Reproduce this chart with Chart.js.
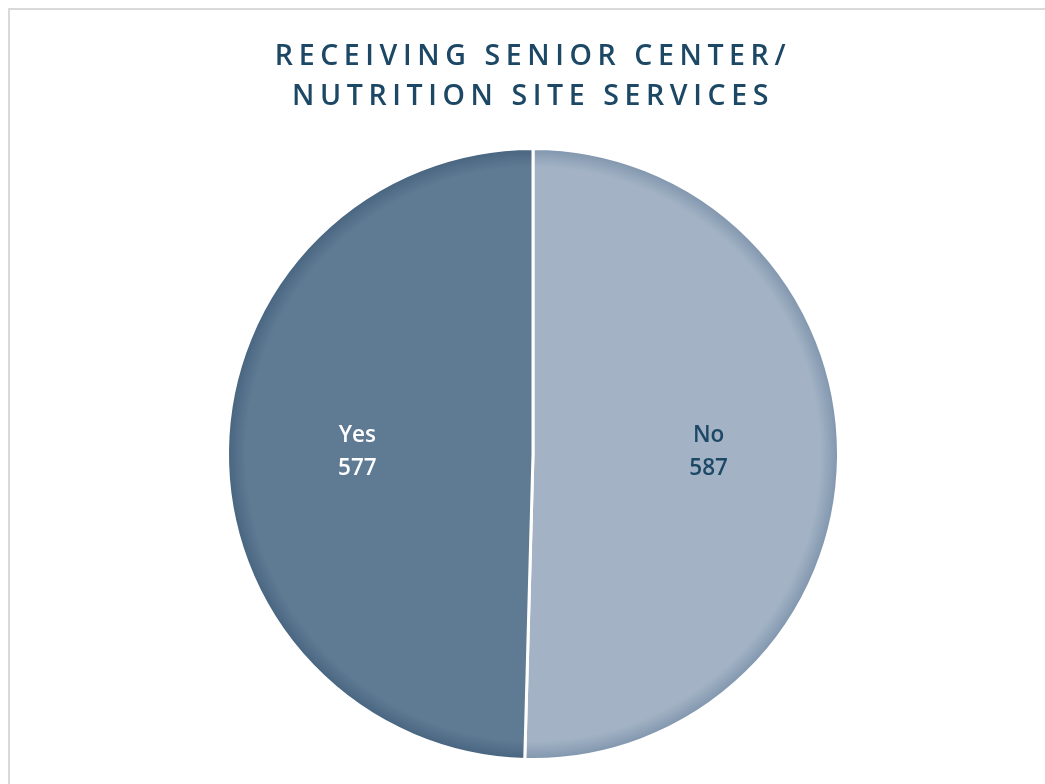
<!DOCTYPE html>
<html>
<head>
<meta charset="utf-8">
<script src="https://cdn.jsdelivr.net/npm/chart.js@4"></script>
<style>
  html, body { margin: 0; padding: 0; background: #fff; overflow: hidden; }
  #wrap { position: relative; width: 1045px; height: 784px; }
  #frame {
    position: absolute; left: 8px; top: 8px; width: 1100px; height: 900px;
    border: 2px solid #d9d9d9; box-sizing: border-box;
  }
  #title {
    position: absolute; left: 21px; right: 0; top: 34px;
    text-align: center; color: #1c4866;
    font: 600 28.5px "Open Sans", sans-serif; letter-spacing: 5.6px; line-height: 40px;
  }
  canvas { position: absolute; left: 0; top: 0; }
</style>
</head>
<body>
<div id="wrap">
  <div id="frame"></div>
  <canvas id="pie" width="1045" height="784"></canvas>
  <div id="title">RECEIVING SENIOR CENTER/<br>NUTRITION SITE SERVICES</div>
</div>
<script>
// Data
const labels = ['No', 'Yes'];
const values = [587, 577];
const fillColors = ['#a3b3c5', '#5f7a93'];
const rimColors = ['#7d93ab', '#46637f'];
const labelColors = ['#1c4866', '#ffffff'];

// Radial shading toward the outer rim of each slice
function sliceFill(context) {
  const chart = context.chart;
  const area = chart.chartArea;
  const i = context.dataIndex;
  if (!area) return fillColors[i];
  const cx = (area.left + area.right) / 2;
  const cy = (area.top + area.bottom) / 2;
  const r = Math.min(area.right - area.left, area.bottom - area.top) / 2;
  const g = chart.ctx.createRadialGradient(cx, cy, 0, cx, cy, r);
  g.addColorStop(0, fillColors[i]);
  g.addColorStop(0.935, fillColors[i]);
  g.addColorStop(1, rimColors[i]);
  return g;
}

// Draws "label / value" inside each slice
const sliceLabels = {
  id: 'sliceLabels',
  afterDatasetsDraw(chart) {
    const ctx = chart.ctx;
    const meta = chart.getDatasetMeta(0);
    ctx.save();
    ctx.font = '600 22.5px "Open Sans", sans-serif';
    ctx.textAlign = 'center';
    ctx.textBaseline = 'middle';
    meta.data.forEach((arc, i) => {
      const mid = (arc.startAngle + arc.endAngle) / 2;
      const r = arc.outerRadius * 0.575;
      const x = arc.x + Math.cos(mid) * r;
      const y = arc.y - 1;
      ctx.fillStyle = labelColors[i];
      ctx.fillText(labels[i], x, y - 17);
      ctx.fillText(String(values[i]), x, y + 16);
    });
    ctx.restore();
  }
};

new Chart(document.getElementById('pie'), {
  type: 'pie',
  data: {
    labels: labels,
    datasets: [{
      data: values,
      backgroundColor: sliceFill,
      borderColor: '#ffffff',
      borderWidth: 3
    }]
  },
  options: {
    responsive: false,
    animation: false,
    layout: {
      padding: { top: 147, bottom: 23, left: 21, right: 0 }
    },
    plugins: {
      legend: { display: false },
      tooltip: { enabled: false }
    }
  },
  plugins: [sliceLabels]
});
</script>
</body>
</html>
